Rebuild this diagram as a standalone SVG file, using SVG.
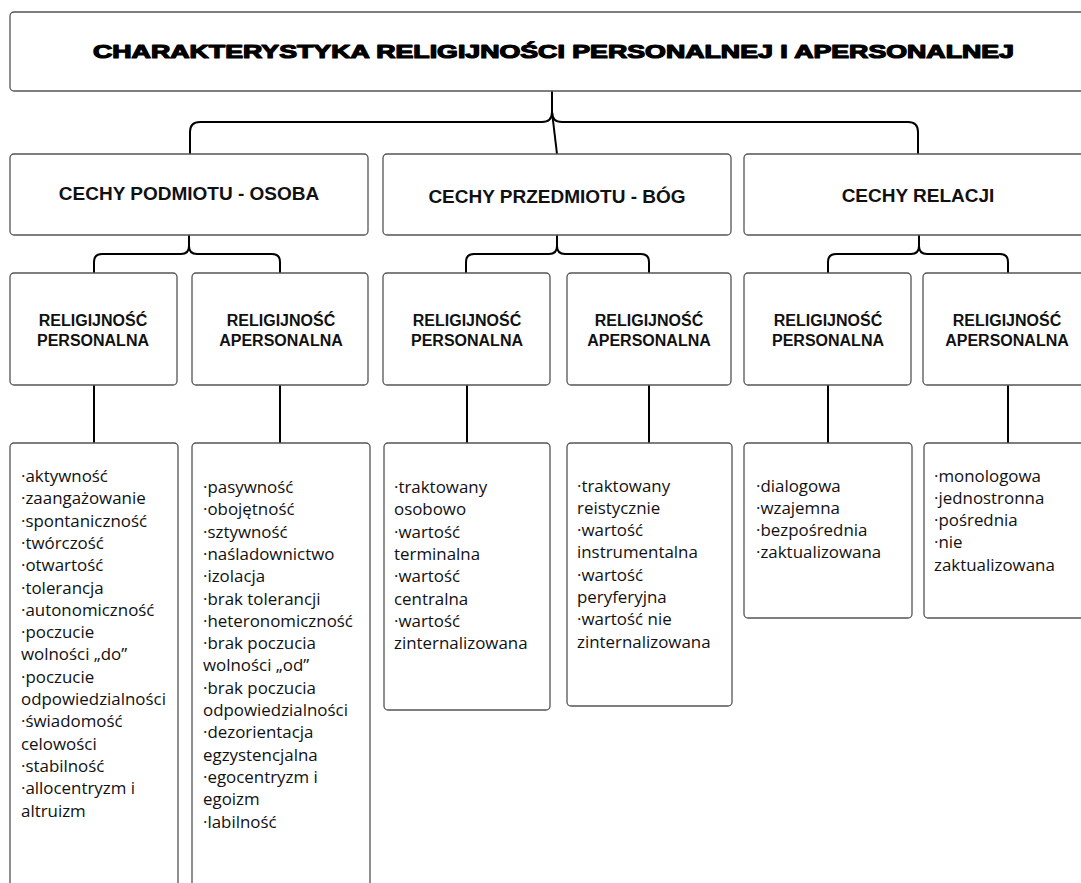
<svg xmlns="http://www.w3.org/2000/svg" width="1081" height="883" viewBox="0 0 1081 883">
<style>
.box{fill:#fff;stroke:#555;stroke-width:1.3}
.con{fill:none;stroke:#000;stroke-width:2}
.title{font-family:"Liberation Sans",Arial,sans-serif;font-weight:bold;font-size:18.5px;fill:#000;stroke:#000;stroke-width:1.2;stroke-linejoin:round}
.h2{font-family:"Liberation Sans",Arial,sans-serif;font-weight:bold;font-size:19px;fill:#111;text-anchor:middle}
.h3{font-family:"Liberation Sans",Arial,sans-serif;font-weight:bold;font-size:16px;fill:#111;text-anchor:middle}
.li{font-family:"Open Sans","Noto Sans",sans-serif;font-size:16.9px;fill:#111}
</style>
<rect width="1081" height="883" fill="#fff"/>
<g id="connectors">
<path class="con" d="M552,91 V112 Q552,122 542,122 H200 Q190,122 190,132 V154"/>
<path class="con" d="M552,112 Q552,122 562,122 H908 Q918,122 918,132 V154"/>
<path class="con" d="M552,112 L557,154"/>
<path class="con" d="M189,235 V246 Q189,254 181,254 H102 Q94,254 94,262 V273"/>
<path class="con" d="M189,246 Q189,254 197,254 H272 Q280,254 280,262 V273"/>
<path class="con" d="M557,235 V246 Q557,254 549,254 H474 Q466,254 466,262 V273"/>
<path class="con" d="M557,246 Q557,254 565,254 H641 Q649,254 649,262 V273"/>
<path class="con" d="M919,235 V246 Q919,254 911,254 H836 Q828,254 828,262 V273"/>
<path class="con" d="M919,246 Q919,254 927,254 H1000 Q1008,254 1008,262 V273"/>
<path class="con" d="M94,385 V443 M280,385 V443 M467,385 V443 M649,385 V443 M828,385 V443 M1008,385 V443"/>
</g>
<g id="title">
<rect class="box" x="10" y="12" width="1090" height="79" rx="4"/>
<text class="title" x="93" y="58" textLength="921" lengthAdjust="spacingAndGlyphs">CHARAKTERYSTYKA RELIGIJNOŚCI PERSONALNEJ I APERSONALNEJ</text>
</g>
<g id="podmiot">
<rect class="box" x="10" y="154" width="358" height="81" rx="4"/>
<text class="h2" x="189" y="200">CECHY PODMIOTU - OSOBA</text>
</g>
<g id="przedmiot">
<rect class="box" x="383" y="154" width="348" height="81" rx="4"/>
<text class="h2" x="557" y="203">CECHY PRZEDMIOTU - BÓG</text>
</g>
<g id="relacja">
<rect class="box" x="744" y="154" width="350" height="81" rx="4"/>
<text class="h2" x="918" y="202">CECHY RELACJI</text>
</g>
<g id="p-pers">
<rect class="box" x="10" y="273" width="167" height="112" rx="4"/>
<text class="h3" x="93" y="326">RELIGIJNOŚĆ<tspan x="93" y="346">PERSONALNA</tspan></text>
</g>
<g id="p-apers">
<rect class="box" x="192" y="273" width="176" height="112" rx="4"/>
<text class="h3" x="281" y="326">RELIGIJNOŚĆ<tspan x="281" y="346">APERSONALNA</tspan></text>
</g>
<g id="b-pers">
<rect class="box" x="383" y="273" width="167" height="112" rx="4"/>
<text class="h3" x="467" y="326">RELIGIJNOŚĆ<tspan x="467" y="346">PERSONALNA</tspan></text>
</g>
<g id="b-apers">
<rect class="box" x="567" y="273" width="164" height="112" rx="4"/>
<text class="h3" x="649" y="326">RELIGIJNOŚĆ<tspan x="649" y="346">APERSONALNA</tspan></text>
</g>
<g id="r-pers">
<rect class="box" x="744" y="273" width="167" height="112" rx="4"/>
<text class="h3" x="828" y="326">RELIGIJNOŚĆ<tspan x="828" y="346">PERSONALNA</tspan></text>
</g>
<g id="r-apers">
<rect class="box" x="923" y="273" width="170" height="112" rx="4"/>
<text class="h3" x="1007" y="326">RELIGIJNOŚĆ<tspan x="1007" y="346">APERSONALNA</tspan></text>
</g>
<g id="p-pers-list">
<rect class="box" x="10" y="443" width="168" height="460" rx="4"/>
<text class="li" x="21" y="482">·aktywność<tspan x="21" dy="22.3">·zaangażowanie</tspan><tspan x="21" dy="22.3">·spontaniczność</tspan><tspan x="21" dy="22.3">·twórczość</tspan><tspan x="21" dy="22.3">·otwartość</tspan><tspan x="21" dy="22.3">·tolerancja</tspan><tspan x="21" dy="22.3">·autonomiczność</tspan><tspan x="21" dy="22.3">·poczucie</tspan><tspan x="21" dy="22.3">wolności „do”</tspan><tspan x="21" dy="22.3">·poczucie</tspan><tspan x="21" dy="22.3">odpowiedzialności</tspan><tspan x="21" dy="22.3">·świadomość</tspan><tspan x="21" dy="22.3">celowości</tspan><tspan x="21" dy="22.3">·stabilność</tspan><tspan x="21" dy="22.3">·allocentryzm i</tspan><tspan x="21" dy="22.3">altruizm</tspan></text>
</g>
<g id="p-apers-list">
<rect class="box" x="192" y="443" width="178" height="460" rx="4"/>
<text class="li" x="203" y="493">·pasywność<tspan x="203" dy="22.3">·obojętność</tspan><tspan x="203" dy="22.3">·sztywność</tspan><tspan x="203" dy="22.3">·naśladownictwo</tspan><tspan x="203" dy="22.3">·izolacja</tspan><tspan x="203" dy="22.3">·brak tolerancji</tspan><tspan x="203" dy="22.3">·heteronomiczność</tspan><tspan x="203" dy="22.3">·brak poczucia</tspan><tspan x="203" dy="22.3">wolności „od”</tspan><tspan x="203" dy="22.3">·brak poczucia</tspan><tspan x="203" dy="22.3">odpowiedzialności</tspan><tspan x="203" dy="22.3">·dezorientacja</tspan><tspan x="203" dy="22.3">egzystencjalna</tspan><tspan x="203" dy="22.3">·egocentryzm i</tspan><tspan x="203" dy="22.3">egoizm</tspan><tspan x="203" dy="22.3">·labilność</tspan></text>
</g>
<g id="b-pers-list">
<rect class="box" x="384" y="443" width="166" height="267" rx="4"/>
<text class="li" x="394" y="493">·traktowany<tspan x="394" dy="22.3">osobowo</tspan><tspan x="394" dy="22.3">·wartość</tspan><tspan x="394" dy="22.3">terminalna</tspan><tspan x="394" dy="22.3">·wartość</tspan><tspan x="394" dy="22.3">centralna</tspan><tspan x="394" dy="22.3">·wartość</tspan><tspan x="394" dy="22.3">zinternalizowana</tspan></text>
</g>
<g id="b-apers-list">
<rect class="box" x="567" y="443" width="165" height="263" rx="4"/>
<text class="li" x="577" y="491.5">·traktowany<tspan x="577" dy="22.3">reistycznie</tspan><tspan x="577" dy="22.3">·wartość</tspan><tspan x="577" dy="22.3">instrumentalna</tspan><tspan x="577" dy="22.3">·wartość</tspan><tspan x="577" dy="22.3">peryferyjna</tspan><tspan x="577" dy="22.3">·wartość nie</tspan><tspan x="577" dy="22.3">zinternalizowana</tspan></text>
</g>
<g id="r-pers-list">
<rect class="box" x="744" y="443" width="168" height="175" rx="4"/>
<text class="li" x="756" y="491.7">·dialogowa<tspan x="756" dy="22.2">·wzajemna</tspan><tspan x="756" dy="22.2">·bezpośrednia</tspan><tspan x="756" dy="22.2">·zaktualizowana</tspan></text>
</g>
<g id="r-apers-list">
<rect class="box" x="924" y="443" width="170" height="175" rx="4"/>
<text class="li" x="934" y="481.7">·monologowa<tspan x="934" dy="22.25">·jednostronna</tspan><tspan x="934" dy="22.25">·pośrednia</tspan><tspan x="934" dy="22.25">·nie</tspan><tspan x="934" dy="22.25">zaktualizowana</tspan></text>
</g>
</svg>
